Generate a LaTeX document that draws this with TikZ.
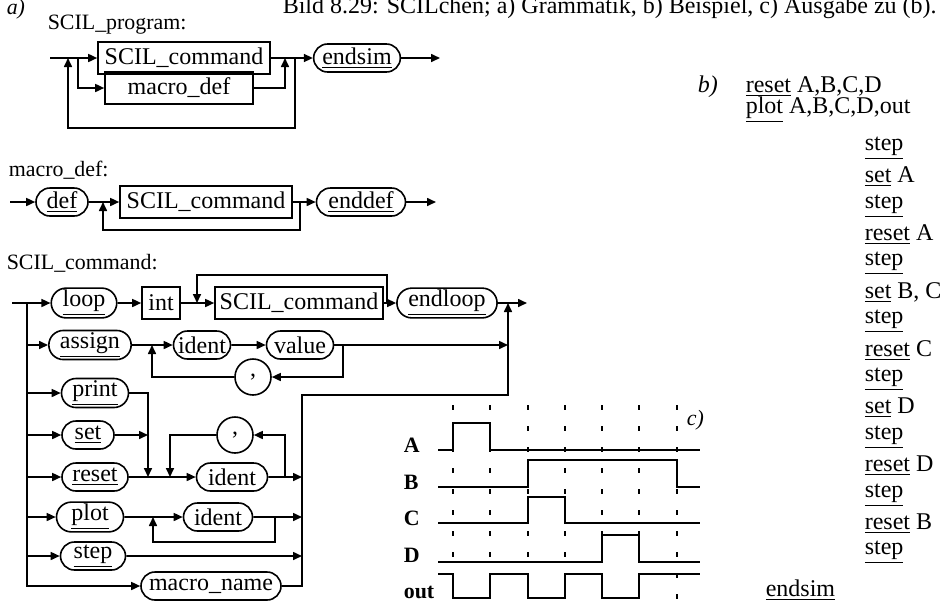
\documentclass[tikz,border=0pt,11pt]{standalone}
\usepackage{fontspec}
\setmainfont{Liberation Serif}
\usetikzlibrary{shapes.misc, arrows.meta, positioning}

\newcommand{\grossfont}{\fontsize{12}{14}\selectfont}

\begin{document}
\begin{tikzpicture}[
  x=0.5pt, y=-0.5pt,
  line width=0.8pt,
  term/.style={rounded rectangle, draw, line width=0.8pt, font=\grossfont,
               minimum height=14pt, inner xsep=2pt, inner ysep=1pt},
  nterm/.style={rectangle, draw, line width=0.8pt, font=\grossfont,
                minimum height=16pt, inner sep=1.5pt},
  komma/.style={circle, draw, line width=0.8pt, font=\grossfont,
                minimum size=18pt, inner sep=0pt},
  arr/.style={-{Triangle[length=4.5pt,width=4pt]}},
  lbl/.style={anchor=west, inner sep=0pt},
  sig/.style={line width=1.1pt},
  takt/.style={line width=1pt, dash pattern=on 2.5pt off 8pt},
]
\useasboundingbox (0,0) rectangle (949,607);
% Ueberschrift
\node[lbl, font=\itshape] (ta) at (6,9) {a)};
\node[anchor=base west, inner sep=0pt, font=\grossfont] (titel) at (282,13)
  {Bild 8.29: SCILchen; a) Grammatik, b) Beispiel, c) Ausgabe zu (b).};
% SCIL_program
\node[lbl] (hprog) at (47,25) {SCIL\_program:};
\node[nterm, minimum width=86pt] (pcmd) at (184,58) {SCIL\_command};
\node[nterm, minimum width=74pt] (pmac) at (179,88) {macro\_def};
\node[term, minimum width=40.5pt] (pend) at (357,58) {\underline{endsim}};
\coordinate (pin)  at (50,58);
\coordinate (pout) at (440,58);
\coordinate (pj1)  at (68,58);
\coordinate (pj2)  at (78,58);
\coordinate (pj3)  at (285,58);
\coordinate (pj4)  at (295,58);
\coordinate (pbot) at (180,128);
\draw[arr] (pin) -- (pcmd.west);
\draw[arr] (pj2) |- (pmac.west);
\draw[arr] (pmac.east) -| (pj3);
\draw[arr] (pcmd.east) -- (pend.west);
\draw[arr] (pend.east) -- (pout);
\draw[arr] (pj4) |- (pbot) -| (pj1);
% macro_def
\node[lbl] (hmac) at (8,170) {macro\_def:};
\node[term, minimum width=30pt] (mdef) at (62,202) {\underline{def}};
\node[nterm, minimum width=86pt] (mcmd) at (206,202) {SCIL\_command};
\node[term, minimum width=48.5pt] (mend) at (361,202) {\underline{enddef}};
\coordinate (min)  at (10,202);
\coordinate (mout) at (436,202);
\coordinate (mj1)  at (103,202);
\coordinate (mj2)  at (300,202);
\coordinate (mbot) at (200,230);
\draw[arr] (min) -- (mdef.west);
\draw[arr] (mdef.east) -- (mcmd.west);
\draw[arr] (mcmd.east) -- (mend.west);
\draw[arr] (mend.east) -- (mout);
\draw[arr] (mj2) |- (mbot) -| (mj1);
% SCIL_command
\node[lbl] (hcmd) at (6,263) {SCIL\_command:};
\node[term, minimum width=31.5pt] (cloop) at (84,303) {\underline{loop}};
\node[nterm, minimum width=19pt] (cint) at (161,303) {int};
\node[nterm, minimum width=84pt] (ccmd) at (299,303) {SCIL\_command};
\node[term, minimum width=43.5pt] (cend) at (447,303) {\underline{endloop}};
\node[term, minimum width=38pt] (cass) at (90,345) {\underline{assign}};
\node[term, minimum width=32.5pt] (cid1) at (202,345) {ident};
\node[term, minimum width=37.5pt] (cval) at (300,345) {value};
\node[komma] (ckom1) at (253,377) {,};
\node[term, minimum width=37.5pt] (cprint) at (95,393) {\underline{print}};
\node[term, minimum width=30pt] (cset) at (88,435) {\underline{set}};
\node[term, minimum width=37pt] (creset) at (95,477) {\underline{reset}};
\node[term, minimum width=39.5pt] (cid2) at (232,477) {ident};
\node[komma] (ckom2) at (235,435) {,};
\node[term, minimum width=37.5pt] (cplot) at (90,517) {\underline{plot}};
\node[term, minimum width=38.5pt] (cid3) at (218,517) {ident};
\node[term, minimum width=36.5pt] (cstep) at (93,556) {\underline{step}};
\node[term, minimum width=74pt] (cmn) at (211,586) {macro\_name};
\coordinate (cin)  at (12,303);
\coordinate (cbus) at (27,303);
\coordinate (cj)   at (508,303);
\coordinate (cout) at (527,303);
\coordinate (cr)   at (387,303);
\coordinate (cl)   at (197,303);
\coordinate (ctop) at (290,275);
\coordinate (cv1)  at (343,377);
\coordinate (cl1)  at (152,345);
\coordinate (cp1)  at (148,477);
\coordinate (cr2)  at (285,477);
\coordinate (cl2)  at (170,477);
\coordinate (cb2)  at (302,477);
\coordinate (cr3)  at (275,517);
\coordinate (cl3)  at (153,517);
\coordinate (cb3)  at (210,542);
\coordinate (cb2o) at (302,395);
\coordinate (cjb)  at (508,395);
% linker Bus
\draw[arr] (cin) -- (cloop.west);
\draw[arr] (cbus) |- (cmn.west);
\foreach \n in {cass, cprint, cset, creset, cplot, cstep}
  \draw[arr] (cbus |- \n.west) -- (\n.west);
% loop
\draw[arr] (cloop) -- (cint);
\draw[arr] (cint) -- (ccmd);
\draw[arr] (ccmd) -- (cend);
\draw[arr] (cend) -- (cout);
\draw[arr] (cr) |- (ctop) -| (cl);
% assign
\draw[arr] (cass) -- (cid1);
\draw[arr] (cid1) -- (cval);
\draw[arr] (cval) -- (cval -| cj);
\draw[arr] (cval.east) -| (cv1) -- (ckom1);
\draw[arr] (ckom1) -| (cl1);
% print, set, reset
\draw[arr] (cprint) -| (cp1);
\draw[arr] (cset) -- (cset -| cp1);
\draw[arr] (creset) -- (cid2);
\draw[arr] (cid2) -- (cid2 -| cb2);
\draw[arr] (cr2) |- (ckom2);
\draw[arr] (ckom2) -| (cl2);
% plot, step
\draw[arr] (cplot) -- (cid3);
\draw[arr] (cid3) -- (cid3 -| cb2);
\draw[arr] (cr3) |- (cb3) -| (cl3);
\draw[arr] (cstep) -- (cstep -| cb2);
% rechter Bus
\draw[arr] (cmn) -| (cb2o) -- (cjb) -- (cj);
% c) Ausgabe
\foreach \t in {453,490,528,565,602,639,677}
  \draw[takt] (\t,405) -- (\t,607);
\node[lbl, font=\bfseries] (sa) at (403,445) {A};
\node[lbl, font=\bfseries] (sb) at (403,482) {B};
\node[lbl, font=\bfseries] (sc) at (403,518) {C};
\node[lbl, font=\bfseries] (sd) at (403,555) {D};
\node[lbl, font=\bfseries] (so) at (403,592) {out};
\node[lbl, font=\itshape] (tc) at (686,420) {c)};
\draw[sig] (438,450) -| (453,423) -| (490,450) -- (700,450);
\draw[sig] (438,487) -| (528,460) -| (677,487) -- (700,487);
\draw[sig] (438,523) -| (528,497) -| (565,523) -- (700,523);
\draw[sig] (438,562) -| (602,535) -| (639,562) -- (700,562);
\draw[sig] (438,574) -| (453,598) -| (490,574) -| (528,598) -| (565,574)
  -| (602,598) -| (639,574) -- (700,574);
% b) Beispiel
\node[lbl, font=\itshape\grossfont] (tb) at (697,87) {b)};
\node[lbl, font=\grossfont] (b1) at (745,87) {\underline{reset} A,B,C,D};
\node[lbl, font=\grossfont] (b2) at (745,110) {\underline{plot} A,B,C,D,out};
\foreach \z [count=\i from 0] in {\underline{step}, \underline{set} A,
    \underline{step}, \underline{reset} A, \underline{step},
    {\underline{set} B, C}, \underline{step}, \underline{reset} C,
    \underline{step}, \underline{set} D, \underline{step},
    \underline{reset} D, \underline{step}, \underline{reset} B,
    \underline{step}}
  \node[lbl, font=\grossfont] (bs\i) at (864,148+28.9*\i) {\z};
\node[lbl, font=\grossfont] (bend) at (765,590) {\underline{endsim}};
\end{tikzpicture}
\end{document}
